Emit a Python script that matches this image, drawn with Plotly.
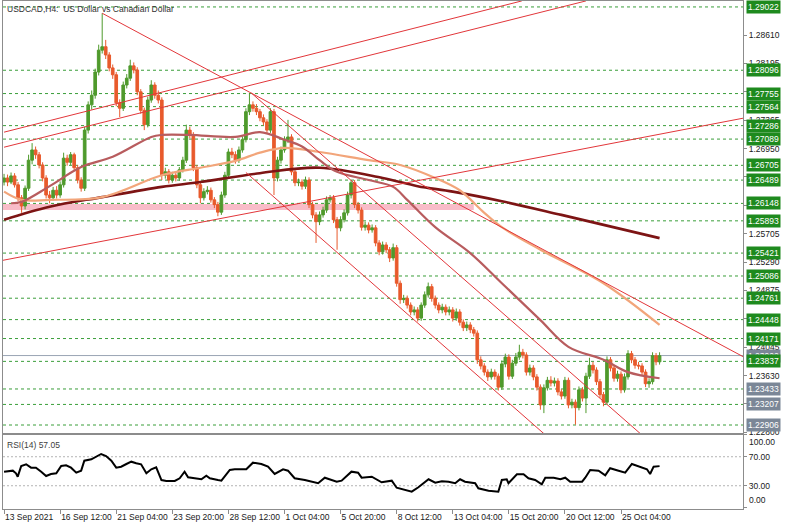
import plotly.graph_objects as go

# ---------------- data ----------------
first_open = 1.2646
closes = [
    1.2652, 1.2646, 1.2655, 1.2642, 1.2623, 1.2611, 1.2637, 1.2678, 1.2693, 1.2686,
    1.2671, 1.2652, 1.2627, 1.2623, 1.2634, 1.2627, 1.2642, 1.2681, 1.2675, 1.2686,
    1.2667, 1.2649, 1.2637, 1.2722, 1.2759, 1.2773, 1.2807, 1.2839, 1.2844, 1.2832,
    1.2813, 1.2803, 1.2762, 1.2754, 1.2788, 1.2798, 1.2816, 1.2810, 1.2778, 1.2751,
    1.2730, 1.2766, 1.2788, 1.2773, 1.2766, 1.2656, 1.2661, 1.2649, 1.2656, 1.2652,
    1.2664, 1.2678, 1.2722, 1.2715, 1.2667, 1.2642, 1.2623, 1.2632, 1.2634, 1.2620,
    1.2613, 1.2602, 1.2627, 1.2656, 1.2690, 1.2686, 1.2678, 1.2693, 1.2708, 1.2749,
    1.2759, 1.2754, 1.2749, 1.2740, 1.2734, 1.2722, 1.2749, 1.2652, 1.2678, 1.2693,
    1.2708, 1.2712, 1.2661, 1.2645, 1.2646, 1.2640, 1.2649, 1.2613, 1.2598, 1.2588,
    1.2598, 1.2605, 1.2620, 1.2623, 1.2591, 1.2579, 1.2591, 1.2601, 1.2627, 1.2645,
    1.2613, 1.2605, 1.2580, 1.2583, 1.2576, 1.2579, 1.2557, 1.2544, 1.2554, 1.2547,
    1.2535, 1.2550, 1.2498, 1.2474, 1.2476, 1.2466, 1.2456, 1.2459, 1.2447, 1.2466,
    1.2481, 1.2493, 1.2476, 1.2466, 1.2459, 1.2463, 1.2456, 1.2459, 1.2447, 1.2456,
    1.2441, 1.2433, 1.2437, 1.2430, 1.2425, 1.2386, 1.2377, 1.2368, 1.2361, 1.2368,
    1.2362, 1.2346, 1.2380, 1.2390, 1.2362, 1.2381, 1.2390, 1.2397, 1.2393, 1.2368,
    1.2374, 1.2361, 1.2346, 1.2320, 1.2345, 1.2356, 1.2352, 1.2355, 1.2339, 1.2333,
    1.2356, 1.2320, 1.2324, 1.2316, 1.2342, 1.2330, 1.2362, 1.2378, 1.2371, 1.2354,
    1.2335, 1.2324, 1.2386, 1.2374, 1.2359, 1.2365, 1.2342, 1.2361, 1.2395, 1.2386,
    1.2378, 1.2377, 1.2368, 1.2351, 1.2354, 1.2392, 1.2383, 1.2392,
]
highs = [
    1.2658, 1.2657, 1.2660, 1.2659, 1.2646, 1.2627, 1.2641, 1.2686, 1.2703, 1.2698,
    1.2690, 1.2675, 1.2656, 1.2633, 1.2639, 1.2640, 1.2647, 1.2689, 1.2686, 1.2690,
    1.2689, 1.2671, 1.2653, 1.2727, 1.2764, 1.2780, 1.2812, 1.2847, 1.2893, 1.2854,
    1.2836, 1.2818, 1.2807, 1.2767, 1.2793, 1.2804, 1.2825, 1.2821, 1.2814, 1.2782,
    1.2755, 1.2771, 1.2795, 1.2792, 1.2780, 1.2770, 1.2667, 1.2665, 1.2661, 1.2660,
    1.2668, 1.2683, 1.2730, 1.2727, 1.2719, 1.2671, 1.2646, 1.2637, 1.2640, 1.2638,
    1.2624, 1.2617, 1.2632, 1.2661, 1.2695, 1.2696, 1.2691, 1.2698, 1.2713, 1.2754,
    1.2776, 1.2764, 1.2760, 1.2753, 1.2745, 1.2738, 1.2754, 1.2753, 1.2683, 1.2698,
    1.2713, 1.2737, 1.2716, 1.2665, 1.2651, 1.2650, 1.2654, 1.2653, 1.2617, 1.2602,
    1.2603, 1.2610, 1.2625, 1.2627, 1.2627, 1.2595, 1.2596, 1.2606, 1.2632, 1.2649,
    1.2649, 1.2617, 1.2609, 1.2588, 1.2587, 1.2584, 1.2583, 1.2561, 1.2559, 1.2558,
    1.2551, 1.2556, 1.2554, 1.2502, 1.2481, 1.2480, 1.2470, 1.2464, 1.2463, 1.2470,
    1.2486, 1.2499, 1.2497, 1.2480, 1.2470, 1.2468, 1.2467, 1.2464, 1.2463, 1.2461,
    1.2460, 1.2445, 1.2442, 1.2441, 1.2434, 1.2429, 1.2391, 1.2381, 1.2372, 1.2373,
    1.2372, 1.2366, 1.2385, 1.2395, 1.2394, 1.2386, 1.2396, 1.2408, 1.2402, 1.2397,
    1.2379, 1.2378, 1.2365, 1.2350, 1.2350, 1.2361, 1.2362, 1.2360, 1.2359, 1.2343,
    1.2361, 1.2360, 1.2329, 1.2328, 1.2347, 1.2346, 1.2367, 1.2389, 1.2383, 1.2375,
    1.2358, 1.2339, 1.2391, 1.2390, 1.2378, 1.2370, 1.2369, 1.2366, 1.2400, 1.2399,
    1.2390, 1.2383, 1.2381, 1.2372, 1.2359, 1.2397, 1.2396, 1.2397,
]
lows = [
    1.2641, 1.2640, 1.2643, 1.2638, 1.2618, 1.2601, 1.2606, 1.2633, 1.2672, 1.2680,
    1.2666, 1.2647, 1.2622, 1.2615, 1.2619, 1.2622, 1.2623, 1.2638, 1.2670, 1.2671,
    1.2662, 1.2644, 1.2632, 1.2633, 1.2717, 1.2752, 1.2768, 1.2802, 1.2834, 1.2826,
    1.2808, 1.2797, 1.2757, 1.2741, 1.2750, 1.2783, 1.2794, 1.2805, 1.2773, 1.2746,
    1.2722, 1.2726, 1.2762, 1.2768, 1.2761, 1.2649, 1.2651, 1.2644, 1.2645, 1.2647,
    1.2648, 1.2660, 1.2674, 1.2710, 1.2662, 1.2637, 1.2615, 1.2619, 1.2628, 1.2616,
    1.2608, 1.2596, 1.2598, 1.2623, 1.2652, 1.2681, 1.2673, 1.2674, 1.2689, 1.2704,
    1.2744, 1.2749, 1.2744, 1.2735, 1.2729, 1.2717, 1.2718, 1.2627, 1.2647, 1.2673,
    1.2689, 1.2703, 1.2656, 1.2640, 1.2640, 1.2635, 1.2636, 1.2608, 1.2593, 1.2557,
    1.2583, 1.2594, 1.2601, 1.2616, 1.2586, 1.2547, 1.2574, 1.2587, 1.2597, 1.2622,
    1.2608, 1.2600, 1.2575, 1.2575, 1.2571, 1.2572, 1.2552, 1.2539, 1.2540, 1.2542,
    1.2529, 1.2531, 1.2493, 1.2468, 1.2469, 1.2461, 1.2451, 1.2451, 1.2442, 1.2443,
    1.2462, 1.2477, 1.2471, 1.2461, 1.2454, 1.2454, 1.2451, 1.2451, 1.2442, 1.2443,
    1.2436, 1.2428, 1.2428, 1.2425, 1.2420, 1.2380, 1.2372, 1.2363, 1.2355, 1.2357,
    1.2357, 1.2341, 1.2342, 1.2375, 1.2357, 1.2358, 1.2377, 1.2386, 1.2388, 1.2363,
    1.2363, 1.2356, 1.2341, 1.2313, 1.2308, 1.2341, 1.2347, 1.2347, 1.2334, 1.2328,
    1.2329, 1.2315, 1.2315, 1.2291, 1.2312, 1.2325, 1.2308, 1.2358, 1.2366, 1.2349,
    1.2330, 1.2318, 1.2320, 1.2369, 1.2354, 1.2354, 1.2337, 1.2338, 1.2357, 1.2381,
    1.2373, 1.2372, 1.2363, 1.2346, 1.2345, 1.2350, 1.2378, 1.2379,
]
opens = [first_open] + closes[:-1]
bars = list(range(len(closes)))

# moving averages (bar index, price)
ma200_bars = [0, 13, 28, 45, 56, 73, 90, 108, 118, 128, 142, 159, 187]
ma200_vals = [1.2591, 1.2610, 1.2624, 1.2639, 1.2646, 1.2659, 1.2667, 1.2652, 1.2640,
              1.2632, 1.2618, 1.2598, 1.2564]
ma100_bars = [0, 5, 13, 28, 45, 56, 66, 73, 80, 90, 104, 113, 123, 130, 137, 142, 153, 171, 187]
ma100_vals = [1.2632, 1.2620, 1.2620, 1.2624, 1.2656, 1.2667, 1.2677, 1.2689, 1.2696, 1.2690,
              1.2678, 1.2671, 1.2652, 1.2634, 1.2601, 1.2580, 1.2547, 1.2498, 1.2437]
ma50_bars = [2, 5, 13, 22, 31, 42, 45, 53, 66, 73, 80, 85, 90, 95, 104, 111, 115, 123, 133,
             142, 153, 161, 171, 178, 187]
ma50_vals = [1.2615, 1.2617, 1.2640, 1.2668, 1.2683, 1.2712, 1.2715, 1.2715, 1.2712, 1.2719,
             1.2708, 1.2698, 1.2678, 1.2661, 1.2649, 1.2639, 1.2620, 1.2580, 1.2542, 1.2498,
             1.2444, 1.2405, 1.2386, 1.2368, 1.2359]

# RSI(14)
rsi_bars = [0, 2.5, 3.4, 3.9, 4.9, 6.3, 7.7, 9.1, 10.6, 12, 13.4, 14.9, 16.3, 17.7, 19.1, 20.6,
            22, 22.9, 24.9, 26.3, 27.7, 29.1, 30.6, 32, 33.4, 34.9, 36.3, 37.7, 39.1, 40.6, 42,
            43.4, 44.9, 46.3, 48.7, 50.1, 51.5, 52.5, 53.9, 56.3, 57.7, 58.7, 61, 62, 64.4, 65.8,
            69.1, 71, 73.4, 75.3, 77.2, 79.6, 81, 82.9, 85.8, 89.6, 91.5, 94.9, 96.3, 99.1, 101,
            102, 104.9, 107.7, 110.6, 112, 116.3, 118.2, 121.1, 123, 124.9, 126.8, 128.7, 130.1,
            131.5, 134.4, 135.3, 138.2, 141, 142, 143.4, 143.9, 146.3, 148.2, 149.6, 151.5, 153.4,
            154.4, 156.8, 158.7, 160.1, 161.5, 164.9, 165.8, 167.2, 169.6, 171.5, 172.9, 175.3,
            177.2, 179.1, 181, 183.4, 184.3, 185.3, 187]
rsi_vals = [49.4, 50.8, 47.2, 42.5, 57.2, 59.6, 54.9, 54.9, 49.4, 43.4, 46.2, 47.2, 57.2, 58.2,
            54.9, 48.0, 50.8, 64.6, 66.5, 70.1, 73.8, 71.0, 64.6, 54.9, 56.3, 60.0, 63.2, 61.0,
            59.6, 47.2, 52.7, 55.4, 37.9, 36.6, 36.6, 40.3, 49.4, 41.7, 40.3, 38.9, 43.9, 40.3,
            37.9, 37.0, 51.7, 52.7, 52.7, 61.8, 60.0, 56.3, 46.2, 52.7, 50.8, 40.3, 37.9, 33.4,
            41.1, 35.6, 37.0, 49.4, 48.0, 41.1, 42.5, 34.8, 37.0, 27.3, 21.8, 27.9, 38.9, 34.2,
            36.1, 35.6, 33.4, 38.9, 35.6, 33.4, 26.5, 23.2, 21.8, 37.9, 38.9, 33.4, 45.8, 45.8,
            40.3, 37.9, 32.0, 41.1, 41.1, 38.9, 41.1, 35.6, 35.6, 41.1, 51.7, 50.8, 44.4, 54.1,
            50.8, 48.0, 60.0, 56.3, 52.7, 46.2, 56.3, 57.05]
rsi_last = 57.05

# horizontal levels
green_levels = [1.29022, 1.28096, 1.27755, 1.27564, 1.27286, 1.27089, 1.26705, 1.26489,
                1.26148, 1.25893, 1.25421, 1.25086, 1.24761, 1.24448, 1.24171, 1.23837]
grey_levels = [1.23433, 1.23207, 1.22906]
bid_price = 1.23922
zone_low, zone_high, zone_end_bar = 1.26050, 1.26140, 134

# trend lines: (bar0, price0, bar1, price1)
trendlines = [
    (28, 1.2893, 211.4, 1.2389),
    (0, 1.2719, 147.7, 1.2911),
    (0, 1.2697, 166.0, 1.2911),
    (-0.9, 1.2531, 211.4, 1.2740),
    (70.6, 1.2776, 200.0, 1.2195),
    (69.0, 1.2660, 160.0, 1.2251),
]

axis_ticks = [1.28610, 1.28195, 1.27780, 1.27365, 1.26950, 1.26535, 1.26120, 1.25705,
              1.25290, 1.24875, 1.24460, 1.24045, 1.23630, 1.23215, 1.22800]
time_ticks = [0, 16, 32, 48, 64, 80, 96, 112, 128, 144, 160, 176]
time_labels = ["13 Sep 2021", "16 Sep 12:00", "21 Sep 04:00", "23 Sep 20:00", "28 Sep 12:00",
               "1 Oct 04:00", "5 Oct 20:00", "8 Oct 12:00", "13 Oct 04:00", "15 Oct 20:00",
               "20 Oct 12:00", "25 Oct 04:00"]

# ---------------- styling ----------------
FONT = "Liberation Sans"
BULL = "#4f9a2c"
BEAR = "#e85a2c"
LINE_RED = "#e2363a"
DASH_GREEN = "#3a9e3a"
XR = [-0.3, 210.8]
YR = [1.22789, 1.29109]

fig = go.Figure()

fig.add_trace(go.Candlestick(
    x=bars, open=opens, high=highs, low=lows, close=closes,
    increasing=dict(line=dict(color=BULL, width=1), fillcolor=BULL),
    decreasing=dict(line=dict(color=BEAR, width=1), fillcolor=BEAR),
    whiskerwidth=0, xaxis="x2", yaxis="y", hoverinfo="skip", showlegend=False,
))

for (b, v, c, w) in [(ma200_bars, ma200_vals, "#7d1414", 2.6),
                     (ma100_bars, ma100_vals, "#f2a57a", 2.2),
                     (ma50_bars, ma50_vals, "#b85c5e", 2.2)]:
    fig.add_trace(go.Scatter(x=b, y=v, mode="lines", line=dict(color=c, width=w, shape="spline"),
                             xaxis="x2", yaxis="y", hoverinfo="skip", showlegend=False))

for (b0, p0, b1, p1) in trendlines:
    fig.add_trace(go.Scatter(x=[b0, b1], y=[p0, p1], mode="lines",
                             line=dict(color=LINE_RED, width=1),
                             xaxis="x2", yaxis="y", hoverinfo="skip", showlegend=False))

fig.add_trace(go.Scatter(x=rsi_bars, y=rsi_vals, mode="lines",
                         line=dict(color="#000000", width=2),
                         xaxis="x", yaxis="y2", hoverinfo="skip", showlegend=False))

shapes = []
shapes.append(dict(type="rect", xref="x2", yref="y", x0=XR[0], x1=zone_end_bar,
                   y0=zone_low, y1=zone_high, fillcolor="#f8bcc8", line=dict(width=0),
                   layer="below"))
for lv in green_levels + grey_levels:
    shapes.append(dict(type="line", xref="x2 domain", yref="y", x0=0, x1=1, y0=lv, y1=lv,
                       line=dict(color=DASH_GREEN, width=1, dash="3px,3px"), layer="below"))
shapes.append(dict(type="line", xref="x2 domain", yref="y", x0=0, x1=1, y0=bid_price, y1=bid_price,
                   line=dict(color="#9aa4b4", width=1), layer="below"))
for lv in [70, 30]:
    shapes.append(dict(type="line", xref="x domain", yref="y2", x0=0, x1=1, y0=lv, y1=lv,
                       line=dict(color="#b4b4b4", width=1, dash="2px,2px"), layer="below"))

annotations = []
annotations.append(dict(xref="paper", yref="y", x=1, y=bid_price, xanchor="left", yanchor="middle",
                        xshift=3, text=f"{bid_price:.5f}", showarrow=False,
                        font=dict(family=FONT, size=8.5, color="white"),
                        bgcolor="#7b8797", borderpad=1))
for lv in grey_levels:
    annotations.append(dict(xref="paper", yref="y", x=1, y=lv, xanchor="left", yanchor="middle",
                            xshift=3, text=f"{lv:.5f}", showarrow=False,
                            font=dict(family=FONT, size=8.5, color="white"),
                            bgcolor="#7b8797", borderpad=1))
for lv in green_levels:
    annotations.append(dict(xref="paper", yref="y", x=1, y=lv, xanchor="left", yanchor="middle",
                            xshift=3, text=f"{lv:.5f}", showarrow=False,
                            font=dict(family=FONT, size=8.5, color="white"),
                            bgcolor="#1e8a1e", borderpad=1))
annotations.append(dict(xref="x2 domain", yref="y domain", x=0, y=1, xanchor="left", yanchor="top",
                        xshift=2, yshift=-1, text="USDCAD,H4:  US Dollar vs Canadian Dollar",
                        showarrow=False, font=dict(family=FONT, size=8.5, color="#303030")))
annotations.append(dict(xref="x domain", yref="y2 domain", x=0, y=1, xanchor="left", yanchor="top",
                        xshift=2, yshift=-3, text=f"RSI(14) {rsi_last:.2f}",
                        showarrow=False, font=dict(family=FONT, size=8.5, color="#404040")))
for val, txt, ya in [(100, "100.00", "top"), (0, "0.00", "bottom")]:
    annotations.append(dict(xref="paper", yref="y2", x=1, y=val, xanchor="left", yanchor=ya,
                            xshift=4, text=txt, showarrow=False,
                            font=dict(family=FONT, size=8.5, color="#202020")))

AX = "#8c8c8c"
fig.update_layout(
    width=790, height=526,
    margin=dict(l=3, r=47, t=1, b=17, autoexpand=False),
    paper_bgcolor="white", plot_bgcolor="white",
    showlegend=False, boxgap=0.2, boxgroupgap=0.05,
    font=dict(family=FONT, size=8.5, color="#202020"),
    xaxis=dict(domain=[0, 1], anchor="y2", range=XR, showgrid=False, zeroline=False,
               tickmode="array", tickvals=time_ticks, ticktext=time_labels, tickangle=0,
               automargin=False,
               ticks="outside", ticklen=4, tickcolor=AX, ticklabelposition="outside right",
               showline=True, linecolor=AX, mirror=True,
               tickfont=dict(family=FONT, size=8.5, color="#202020"), rangeslider=dict(visible=False)),
    xaxis2=dict(domain=[0, 1], anchor="y", matches="x", range=XR, showgrid=False, zeroline=False,
                showticklabels=False, ticks="", showline=True, linecolor=AX, mirror=True,
                automargin=False, rangeslider=dict(visible=False)),
    yaxis=dict(domain=[0.1496, 1], anchor="x2", side="right", range=YR, showgrid=False,
               zeroline=False, tickmode="array", tickvals=axis_ticks, automargin=False,
               ticktext=[f"{t:.5f}" for t in axis_ticks], ticks="outside", ticklen=3,
               tickcolor=AX, showline=True, linecolor=AX, mirror=True,
               tickfont=dict(family=FONT, size=8.5, color="#202020")),
    yaxis2=dict(domain=[0, 0.1457], anchor="x", side="right", range=[-2.07, 100],
                showgrid=False, zeroline=False, tickmode="array", tickvals=[100, 70, 30, 0],
                ticktext=["", "70.00", "30.00", ""], ticks="outside", ticklen=3, tickcolor=AX,
                showline=True, linecolor=AX, mirror=True, automargin=False,
                tickfont=dict(family=FONT, size=8.5, color="#202020")),
    shapes=shapes, annotations=annotations,
)

fig.write_html("out.html",
               config={"displayModeBar": False, "staticPlot": True},
               post_script="document.body.style.margin='0';document.body.style.padding='0';"
                           "document.documentElement.style.overflow='hidden';")
